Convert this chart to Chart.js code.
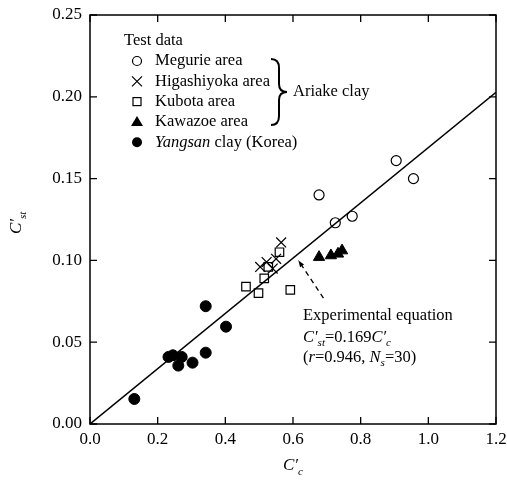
<!DOCTYPE html>
<html><head><meta charset="utf-8">
<script src="https://cdn.jsdelivr.net/npm/chart.js"></script>
<style>html,body{margin:0;padding:0;background:#fff}#w{width:507px;height:491px}</style>
</head><body><div id="w"><canvas id="c" width="507" height="491"></canvas></div>
<script>
const xTicks = [0.0, 0.2, 0.4, 0.6, 0.8, 1.0, 1.2];
const yTicks = [0.00, 0.05, 0.10, 0.15, 0.20, 0.25];
const megurieX = [0.677, 0.905, 0.956, 0.725, 0.775];
const megurieY = [0.140, 0.161, 0.150, 0.123, 0.127];
const higashiX = [0.503, 0.522, 0.540, 0.550, 0.565];
const higashiY = [0.096, 0.099, 0.095, 0.101, 0.111];
const kubotaX = [0.560, 0.515, 0.461, 0.498, 0.592, 0.527];
const kubotaY = [0.105, 0.089, 0.084, 0.080, 0.082, 0.096];
const kawazoeX = [0.677, 0.712, 0.733, 0.745];
const kawazoeY = [0.102, 0.103, 0.104, 0.106];
const yangsanX = [0.342, 0.402, 0.342, 0.303, 0.261, 0.271, 0.232, 0.245, 0.131];
const yangsanY = [0.072, 0.0595, 0.0436, 0.0375, 0.0357, 0.041, 0.041, 0.042, 0.0153];
const slope = 0.169;
const lineX = [0.0, 1.2];
const arrowFrom = [0.69, 0.077];
const arrowTo = [0.616, 0.100];

const pts = (xs, ys) => xs.map((x, i) => ({x, y: ys[i]}));
const serif = '"Liberation Serif", "DejaVu Serif", serif';
const FS = 16.5;

const custom = {
  id: 'custom',
  afterDraw(chart) {
    const {ctx, chartArea: a, scales: {x, y}} = chart;
    ctx.save();
    ctx.strokeStyle = '#000'; ctx.fillStyle = '#000';
    ctx.lineWidth = 1.5;
    ctx.strokeRect(a.left, a.top, a.right - a.left, a.bottom - a.top);
    ctx.lineWidth = 1.3;
    xTicks.forEach(v => {
      const px = x.getPixelForValue(v);
      ctx.beginPath(); ctx.moveTo(px, a.bottom); ctx.lineTo(px, a.bottom - 7);
      ctx.moveTo(px, a.top); ctx.lineTo(px, a.top + 7); ctx.stroke();
    });
    yTicks.forEach(v => {
      const py = y.getPixelForValue(v);
      ctx.beginPath(); ctx.moveTo(a.left, py); ctx.lineTo(a.left + 7, py);
      ctx.moveTo(a.right, py); ctx.lineTo(a.right - 7, py); ctx.stroke();
    });
    const fx = x.getPixelForValue(arrowFrom[0]), fy = y.getPixelForValue(arrowFrom[1]);
    const tx = x.getPixelForValue(arrowTo[0]), ty = y.getPixelForValue(arrowTo[1]);
    ctx.lineWidth = 1.3; ctx.setLineDash([5, 4]);
    ctx.beginPath(); ctx.moveTo(fx, fy); ctx.lineTo(tx, ty); ctx.stroke();
    ctx.setLineDash([]);
    const ang = Math.atan2(ty - fy, tx - fx);
    ctx.beginPath(); ctx.moveTo(tx, ty);
    ctx.lineTo(tx - 7 * Math.cos(ang - 0.35), ty - 7 * Math.sin(ang - 0.35));
    ctx.lineTo(tx - 7 * Math.cos(ang + 0.35), ty - 7 * Math.sin(ang + 0.35));
    ctx.closePath(); ctx.fill();

    const F = (s, it) => (it ? 'italic ' : '') + s + 'px ' + serif;
    ctx.font = F(FS);
    ctx.textBaseline = 'middle'; ctx.textAlign = 'left';
    ctx.fillText('Test data', 124, 41);
    const rows = [['Megurie area', 'circle'], ['Higashiyoka area', 'cross'], ['Kubota area', 'square'], ['Kawazoe area', 'tri'], ['Yangsan clay (Korea)', 'dot']];
    rows.forEach((r, i) => {
      const yy = 61 + i * 20.3, sx = 137;
      ctx.lineWidth = 1.2;
      if (r[1] === 'circle') { ctx.beginPath(); ctx.arc(sx, yy, 4.5, 0, 7); ctx.stroke(); }
      if (r[1] === 'cross') { ctx.beginPath(); ctx.moveTo(sx-5, yy-5); ctx.lineTo(sx+5, yy+5); ctx.moveTo(sx+5, yy-5); ctx.lineTo(sx-5, yy+5); ctx.stroke(); }
      if (r[1] === 'square') { ctx.strokeRect(sx-4, yy-4, 8, 8); }
      if (r[1] === 'tri') { ctx.beginPath(); ctx.moveTo(sx, yy-6); ctx.lineTo(sx+6, yy+4); ctx.lineTo(sx-6, yy+4); ctx.closePath(); ctx.fill(); }
      if (r[1] === 'dot') { ctx.beginPath(); ctx.arc(sx, yy, 5, 0, 7); ctx.fill(); }
      if (i === 4) {
        ctx.font = F(FS, true); ctx.fillText('Yangsan', 155, yy);
        const w = ctx.measureText('Yangsan ').width;
        ctx.font = F(FS); ctx.fillText('clay (Korea)', 155 + w, yy);
      } else {
        ctx.font = F(FS); ctx.fillText(r[0], 155, yy);
      }
    });
    ctx.lineWidth = 2;
    ctx.beginPath();
    const bx = 279, bt = 59, bb = 125, bm = 92;
    ctx.moveTo(bx - 8, bt);
    ctx.quadraticCurveTo(bx, bt, bx, bt + 9);
    ctx.lineTo(bx, bm - 8);
    ctx.quadraticCurveTo(bx, bm, bx + 8, bm);
    ctx.quadraticCurveTo(bx, bm, bx, bm + 8);
    ctx.lineTo(bx, bb - 9);
    ctx.quadraticCurveTo(bx, bb, bx - 8, bb);
    ctx.stroke();
    ctx.font = F(FS);
    ctx.fillText('Ariake clay', 293, 92);

    ctx.fillText('Experimental equation', 303, 316);
    let cx = 303;
    const part = (t, f, yb, dy) => { ctx.font = f; ctx.fillText(t, cx, yb + (dy||0)); cx += ctx.measureText(t).width; };
    part('C′', F(FS, true), 338);
    part('st', F(11, true), 338, 5);
    part('=0.169', F(FS), 338);
    part('C′', F(FS, true), 338);
    part('c', F(11, true), 338, 5);
    cx = 303;
    part('(', F(FS), 358);
    part('r', F(FS, true), 358);
    part('=0.946, ', F(FS), 358);
    part('N', F(FS, true), 358);
    part('s', F(11, true), 358, 5);
    part('=30)', F(FS), 358);

    cx = 283;
    part('C′', F(17, true), 466);
    part('c', F(11, true), 466, 6);
    ctx.save();
    ctx.translate(17, 234); ctx.rotate(-Math.PI / 2);
    cx = 0;
    part('C′', F(17, true), 0);
    part('st', F(11, true), 0, 6);
    ctx.restore();
    ctx.restore();
  }
};

new Chart(document.getElementById('c'), {
  type: 'scatter',
  data: {
    datasets: [
      {label: 'Experimental equation', type: 'line', data: lineX.map(v => ({x: v, y: slope * v})), borderColor: '#000', borderWidth: 1.5, pointRadius: 0, fill: false},
      {label: 'Megurie area', data: pts(megurieX, megurieY), pointStyle: 'circle', radius: 5, backgroundColor: '#fff', borderColor: '#000', borderWidth: 1.2},
      {label: 'Higashiyoka area', data: pts(higashiX, higashiY), pointStyle: 'crossRot', radius: 7, borderColor: '#000', borderWidth: 1.2},
      {label: 'Kubota area', data: pts(kubotaX, kubotaY), pointStyle: 'rect', radius: 6, backgroundColor: '#fff', borderColor: '#000', borderWidth: 1.2},
      {label: 'Kawazoe area', data: pts(kawazoeX, kawazoeY), pointStyle: 'triangle', radius: 6.5, backgroundColor: '#000', borderColor: '#000', borderWidth: 1},
      {label: 'Yangsan clay (Korea)', data: pts(yangsanX, yangsanY), pointStyle: 'circle', radius: 5.5, backgroundColor: '#000', borderColor: '#000', borderWidth: 1}
    ]
  },
  options: {
    responsive: false, animation: false,
    layout: {padding: {top: 15, right: 11, left: 0, bottom: 0}},
    plugins: {legend: {display: false}, tooltip: {enabled: false}},
    scales: {
      x: {type: 'linear', min: 0, max: 1.2,
        afterFit: s => { s.height = 67; s.paddingRight = 0; s.paddingLeft = 0; },
        afterBuildTicks: s => { s.ticks = xTicks.map(v => ({value: v})); },
        grid: {display: false, drawTicks: false}, border: {display: false},
        ticks: {color: '#000', font: {family: serif, size: 17}, padding: 5, maxRotation: 0, callback: v => v.toFixed(1)}},
      y: {type: 'linear', min: 0, max: 0.25,
        afterFit: s => { s.width = 90; s.paddingTop = 0; s.paddingBottom = 0; },
        afterBuildTicks: s => { s.ticks = yTicks.map(v => ({value: v})); },
        grid: {display: false, drawTicks: false}, border: {display: false},
        ticks: {color: '#000', font: {family: serif, size: 17}, padding: 8, callback: v => v.toFixed(2)}}
    }
  },
  plugins: [custom]
});
</script></body></html>
